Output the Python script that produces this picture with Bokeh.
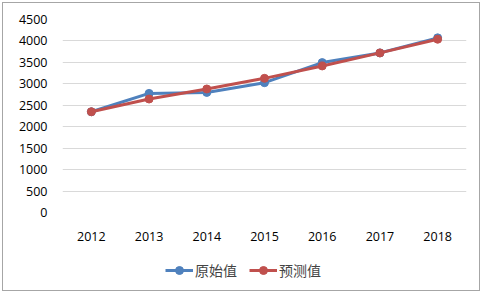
from bokeh.plotting import figure
from bokeh.layouts import column
from bokeh.models import Legend, LegendItem, Range1d, FactorRange
from bokeh.embed import file_html
from bokeh.resources import INLINE

years = ["2012", "2013", "2014", "2015", "2016", "2017", "2018"]
original = [2349, 2777, 2800, 3027, 3495, 3721, 4072]
predicted = [2349, 2646, 2880, 3128, 3417, 3721, 4040]
y_ticks = [0, 500, 1000, 1500, 2000, 2500, 3000, 3500, 4000, 4500]
series_names = ["原始值", "预测值"]

blue = "#4f81bd"
red = "#c0504d"

p = figure(x_range=years, y_range=Range1d(0, 4500),
           width=478, height=247,
           output_backend="svg", toolbar_location=None,
           min_border_left=59, min_border_right=13, min_border_top=16, min_border_bottom=38)
p.outline_line_color = None
p.background_fill_color = "white"
p.border_fill_color = "white"

p.yaxis.ticker = y_ticks
p.xgrid.grid_line_color = None
p.ygrid.grid_line_color = "#d9d9d9"
p.ygrid.grid_line_width = 1

for ax in (p.xaxis[0], p.yaxis[0]):
    ax.axis_line_color = None
    ax.major_tick_line_color = None
    ax.minor_tick_line_color = None
    ax.major_label_text_font = "Open Sans"
    ax.major_label_text_font_size = "12.5px"
    ax.major_label_text_color = "#000000"
p.yaxis.major_label_standoff = 9
p.xaxis.major_label_standoff = 13

p.line(years, original, line_color=blue, line_width=3)
p.scatter(years, original, size=8, fill_color=blue, line_color=blue)
p.line(years, predicted, line_color=red, line_width=3)
p.scatter(years, predicted, size=8, fill_color=red, line_color=red)

# legend strip below the chart (series drawn out of its view, only for the legend glyphs)
p2 = figure(width=478, height=40, output_backend="svg", toolbar_location=None,
            x_range=FactorRange(factors=years), y_range=Range1d(-2, -1),
            x_axis_type=None, y_axis_type=None,
            min_border_left=0, min_border_right=0, min_border_top=0, min_border_bottom=0)
p2.outline_line_color = None
p2.xgrid.visible = False
p2.ygrid.visible = False
p2.border_fill_color = "white"
p2.background_fill_color = "white"
items = []
for name, col, vals in zip(series_names, [blue, red], [original, predicted]):
    lr = p2.line(years, vals, line_color=col, line_width=3)
    sr = p2.scatter(years, vals, size=8, fill_color=col, line_color=col)
    items.append(LegendItem(label=name, renderers=[lr, sr]))

legend = Legend(items=items, orientation="horizontal", location=(103, 10),
                label_text_font="Noto Sans CJK SC", label_text_font_size="14px",
                glyph_width=28, glyph_height=20, label_height=20, label_standoff=2, spacing=12,
                padding=0, margin=0, border_line_color=None, background_fill_alpha=0)
p2.add_layout(legend, "center")

layout = column(p, p2, spacing=0)
layout.styles = {"margin": "2px 0 0 2px", "border": "1px solid #a6a6a6", "width": "478px"}

open("out.html", "w").write(file_html(layout, INLINE))
